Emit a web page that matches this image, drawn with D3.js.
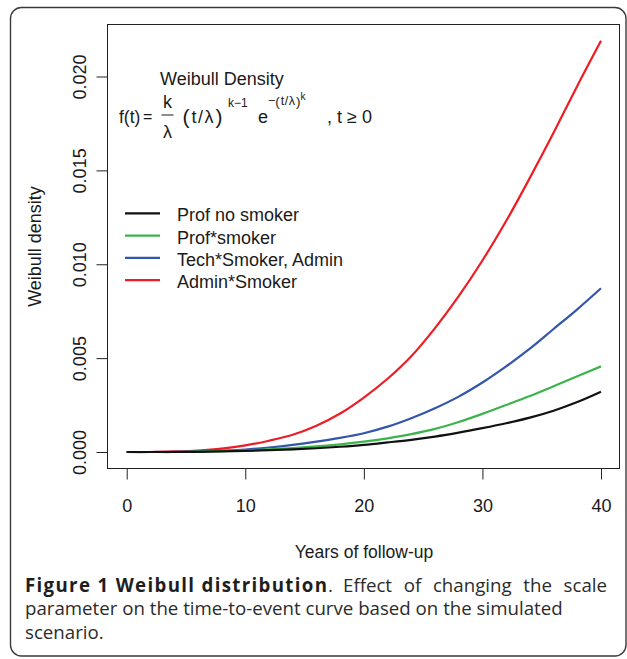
<!DOCTYPE html>
<html>
<head>
<meta charset="utf-8">
<script src="https://cdn.jsdelivr.net/npm/d3@7"></script>
<style>
  html, body { margin: 0; padding: 0; background: #fff; }
  svg { display: block; }
</style>
</head>
<body>
<svg id="chart" width="627" height="659"></svg>
<script>
// ---- data ----
const years = [0, 2, 4, 6, 8, 10, 12, 14, 16, 18, 20, 22, 24, 26, 28, 30, 32, 34, 36, 38, 40];
const profNoSmoker = [0, 0, 0, 0.00001, 0.00003, 0.00006, 0.0001, 0.00014, 0.0002, 0.00028, 0.00038, 0.00051, 0.00065, 0.00082, 0.00103, 0.00127, 0.00153, 0.00183, 0.0022, 0.00266, 0.00321];
const profSmoker = [0, 0, 0, 0.00002, 0.00005, 0.00009, 0.00014, 0.00021, 0.0003, 0.00041, 0.00055, 0.00073, 0.00095, 0.00123, 0.0016, 0.00203, 0.0025, 0.00298, 0.0035, 0.00403, 0.00456];
const techSmokerAdmin = [0, 0, 0.00001, 0.00003, 0.00007, 0.00013, 0.00024, 0.00038, 0.00055, 0.00075, 0.001, 0.00135, 0.0018, 0.00233, 0.00295, 0.0037, 0.00456, 0.0055, 0.00655, 0.0076, 0.00872];
const adminSmoker = [0, 0, 0.00003, 0.00008, 0.00018, 0.00035, 0.0006, 0.00092, 0.0014, 0.00205, 0.0029, 0.0039, 0.0051, 0.0066, 0.0083, 0.0102, 0.0123, 0.0146, 0.0170, 0.0195, 0.0219];

const seriesNames = ["Prof no smoker", "Prof*smoker", "Tech*Smoker, Admin", "Admin*Smoker"];
const seriesColors = ["#111111", "#3cb44b", "#3355aa", "#ee1c24"];
const seriesValues = [profNoSmoker, profSmoker, techSmokerAdmin, adminSmoker];

const xTicks = [0, 10, 20, 30, 40];
const yTicks = [0, 0.005, 0.010, 0.015, 0.020];
const yTickLabels = ["0.000", "0.005", "0.010", "0.015", "0.020"];

const xTitle = "Years of follow-up";
const yTitle = "Weibull density";
const captionBold = "Figure 1 Weibull distribution";
const captionLine1 = "Effect of changing the scale";
const captionLine2 = "parameter on the time-to-event curve based on the simulated";
const captionLine3 = "scenario.";

// ---- layout ----
const svg = d3.select("#chart");
const AX = "'Liberation Sans', Arial, Helvetica, sans-serif";
const CAP = "'Open Sans', 'Noto Sans', sans-serif";
const ink = "#1a1a1a";

const box = { left: 107.5, right: 619.5, top: 24.5, bottom: 468.5 };

const x = d3.scaleLinear().domain([0, 40]).range([126.7, 601]);
const y = d3.scaleLinear().domain([0, 0.020]).range([452, 76.5]);

// outer rounded frame
svg.append("rect")
  .attr("x", 10.5).attr("y", 7.5)
  .attr("width", 615.5).attr("height", 648.5)
  .attr("rx", 11).attr("ry", 11)
  .attr("fill", "none").attr("stroke", "#3a3a3a").attr("stroke-width", 1.4);

// plot box
svg.append("rect")
  .attr("x", box.left).attr("y", box.top)
  .attr("width", box.right - box.left).attr("height", box.bottom - box.top)
  .attr("fill", "none").attr("stroke", "#222").attr("stroke-width", 1);

// x axis
const xAxis = d3.axisBottom(x).tickValues(xTicks).tickSize(11).tickPadding(20).tickFormat(d3.format("d"));
const gx = svg.append("g").attr("transform", `translate(0,${box.bottom})`).call(xAxis);
gx.select(".domain").remove();
gx.selectAll("line").attr("stroke", "#222");
gx.selectAll("text").attr("font-family", AX).attr("font-size", 18).attr("fill", ink);

// y axis
const yAxis = d3.axisLeft(y).tickValues(yTicks).tickSize(11).tickFormat((d, i) => yTickLabels[i]);
const gy = svg.append("g").attr("transform", `translate(${box.left},0)`).call(yAxis);
gy.select(".domain").remove();
gy.selectAll("line").attr("stroke", "#222");
gy.selectAll("text")
  .attr("font-family", AX).attr("font-size", 18).attr("fill", ink)
  .attr("x", null).attr("dy", null)
  .attr("text-anchor", "middle")
  .attr("transform", "translate(-22,0) rotate(-90)");

// axis titles
svg.append("text").attr("x", 364).attr("y", 558)
  .attr("text-anchor", "middle").attr("font-family", AX).attr("font-size", 17.5).attr("fill", ink)
  .text(xTitle);
svg.append("text")
  .attr("transform", `translate(41,${(box.top + box.bottom) / 2}) rotate(-90)`)
  .attr("text-anchor", "middle").attr("font-family", AX).attr("font-size", 18).attr("fill", ink)
  .text(yTitle);

// curves (black drawn last, on top)
const line = d3.line().x((d, i) => x(years[i])).y(d => y(d)).curve(d3.curveCatmullRom.alpha(0.5));
const drawOrder = [3, 2, 1, 0];
drawOrder.forEach(k => {
  svg.append("path")
    .datum(seriesValues[k])
    .attr("d", line)
    .attr("fill", "none")
    .attr("stroke", seriesColors[k])
    .attr("stroke-width", 2.2)
    .attr("stroke-linejoin", "round");
});

// legend
const leg = svg.append("g");
seriesNames.forEach((name, i) => {
  const ly = 213.3 + i * 22.3;
  leg.append("line").attr("x1", 125).attr("x2", 160).attr("y1", ly).attr("y2", ly)
    .attr("stroke", seriesColors[i]).attr("stroke-width", 2.2);
  leg.append("text").attr("x", 177).attr("y", ly + 8)
    .attr("font-family", AX).attr("font-size", 18).attr("fill", ink).text(name);
});

// formula block
const fm = svg.append("g").attr("font-family", AX).attr("fill", ink);
fm.append("text").attr("x", 160).attr("y", 85).attr("font-size", 18).text("Weibull Density");
const base = 122.7;
const put = (tx, px, py, size, anchor) => fm.append("text").attr("x", px).attr("y", py)
  .attr("font-size", size).attr("text-anchor", anchor || "start").attr("fill", ink).text(tx);
put("f(t)", 119, base, 17.5);
put("=", 143, base - 0.5, 16);
put("k", 167.5, 108.3, 18, "middle");
fm.append("line").attr("x1", 161.5).attr("x2", 173.5).attr("y1", 115).attr("y2", 115)
  .attr("stroke", ink).attr("stroke-width", 1);
put("λ", 167.5, 138, 18, "middle");
const grp = fm.append("text").attr("x", 182.5).attr("y", base).attr("font-size", 18);
grp.append("tspan").attr("font-size", 21).attr("dy", 1.5).text("(");
grp.append("tspan").attr("dx", 2).attr("dy", -1.5).text("t");
grp.append("tspan").attr("dx", 1.5).text("/");
grp.append("tspan").attr("dx", 1.5).text("λ");
grp.append("tspan").attr("font-size", 21).attr("dx", 2).attr("dy", 1.5).text(")");
put("k−1", 228, 106.5, 12);
put("e", 258, base, 18);
const sup = fm.append("text").attr("x", 268).attr("y", 105).attr("font-size", 12.5);
sup.append("tspan").text("−");
sup.append("tspan").attr("font-size", 13.5).attr("dy", 0.5).text("(");
sup.append("tspan").attr("dx", 1).attr("dy", -0.5).text("t");
sup.append("tspan").attr("dx", 0.5).text("/");
sup.append("tspan").attr("dx", 0.5).text("λ");
sup.append("tspan").attr("font-size", 13.5).attr("dx", 1).attr("dy", 0.5).text(")");
put("k", 300.5, 100, 10);
put(", t ≥ 0", 327, base, 18);

// caption
const cap = svg.append("g").attr("font-family", CAP).attr("fill", "#2b2b2b");
const y1 = 591.5, y2 = 615, y3 = 638.5;
const l2 = cap.append("text").attr("x", 25).attr("y", y2).attr("font-size", 16).text(captionLine2);
const fs = 16 * 538 / l2.node().getComputedTextLength();
l2.attr("font-size", fs);
cap.append("text").attr("x", 25).attr("y", y3).attr("font-size", fs).text(captionLine3);

// line 1: bold lead (letter-spaced to reach x≈327), a period, then justified words to x≈607
const t1 = cap.append("text").attr("y", y1).attr("font-size", fs);
const bold = t1.append("tspan").attr("x", 25).attr("font-weight", "bold").attr("fill", "#1e1e1e").text(captionBold);
const natural = bold.node().getComputedTextLength();
const ls = (327 - 25 - natural) / (captionBold.length - 1);
bold.attr("letter-spacing", ls);
t1.append("tspan").attr("x", 328).text(".");
const words = captionLine1.split(" ");
const widths = words.map(w => {
  const t = cap.append("text").attr("font-size", fs).text(w);
  const wd = t.node().getComputedTextLength(); t.remove(); return wd;
});
const total = widths.reduce((a, c) => a + c, 0);
const startX = 343, endX = 607;
const gap = (endX - startX - total) / (words.length - 1);
let cx = startX;
words.forEach((w, i) => {
  t1.append("tspan").attr("x", cx).text(w);
  cx += widths[i] + gap;
});
</script>
</body>
</html>
